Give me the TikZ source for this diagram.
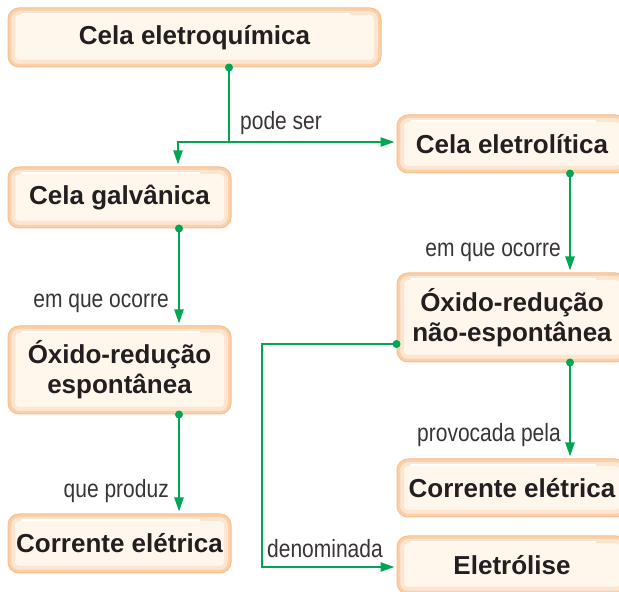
\documentclass[tikz,border=0pt]{standalone}
\usepackage{fontspec}
\setmainfont{Liberation Sans}
\newfontfamily\condfont[FakeStretch=0.84]{Liberation Sans}
\usetikzlibrary{arrows.meta,calc}
\definecolor{gr}{HTML}{00A651}
\definecolor{boxfill}{HTML}{FFF6EC}
\definecolor{boxring}{HTML}{FDE5CF}
\definecolor{boxring2}{HTML}{FAD0AA}
\definecolor{boxedge}{HTML}{F6C090}
\definecolor{txt}{HTML}{231F20}
\tikzset{
  concept/.style={rounded corners=11pt, fill=boxfill, draw=boxedge, line width=1pt,
    align=center, font=\bfseries\fontsize{26}{30}\selectfont, text=txt, inner sep=0pt,
    path picture={
      \draw[boxring, line width=14pt, rounded corners=11pt]
        (path picture bounding box.south west) rectangle (path picture bounding box.north east);
      \draw[boxring2, line width=6pt, rounded corners=11pt]
        (path picture bounding box.south west) rectangle (path picture bounding box.north east);
      \draw[white, line width=2.5pt, line cap=round]
        ($(path picture bounding box.north west)+(14pt,-6pt)$) -- ($(path picture bounding box.north east)+(-32pt,-6pt)$);
    }},
  conn/.style={gr, line width=2.3pt},
  arr/.style={conn, -{Triangle[length=14pt,width=9pt]}, shorten >=2pt},
  lbl/.style={font=\condfont\fontsize{25}{30}\selectfont, text=txt!90, inner sep=0pt}
}
\begin{document}
\begin{tikzpicture}[x=1pt,y=1pt]
\useasboundingbox (0,0) rectangle (619,592);
\clip (0,0) rectangle (619,592);
% boxes
\node[concept, minimum width=373pt, minimum height=59pt] (top) at (194.5,554.5) {Cela eletroquímica};
\node[concept, minimum width=223pt, minimum height=61pt] (galv) at (119.5,394.5) {Cela galvânica};
\node[concept, minimum width=223pt, minimum height=88pt] (oxl) at (119.5,222) {Óxido-redução\\espontânea};
\node[concept, minimum width=223pt, minimum height=59pt] (corl) at (119.5,48.5) {Corrente elétrica};
\node[concept, minimum width=230pt, minimum height=58pt] (eletrol) at (512,448) {Cela eletrolítica};
\node[concept, minimum width=230pt, minimum height=89pt] (oxr) at (512,274.5) {Óxido-redução\\não-espontânea};
\node[concept, minimum width=230pt, minimum height=58pt] (corr) at (512,104) {Corrente elétrica};
\node[concept, minimum width=230pt, minimum height=58pt] (eletrolise) at (512,27) {Eletrólise};
% helper coordinates
\coordinate (split) at (229,450);
\coordinate (lx) at (179,0);
\coordinate (gx) at (178,0);
\coordinate (rx) at (570,0);
\coordinate (dn) at ($(oxr.west)+(0,-26.5)$);
\coordinate (lc) at (262,25);
% connectors
\draw[conn] (top.south -| split) -- (split);
\fill[gr] (top.south -| split) circle (4pt);
\draw[arr] (split) -| (galv.north -| gx);
\draw[arr] (split) -- (eletrol.west |- split);
\draw[arr] (galv.south -| lx) -- (oxl.north -| lx);
\fill[gr] (galv.south -| lx) circle (4pt);
\draw[arr] (oxl.south -| lx) -- (corl.north -| lx);
\fill[gr] (oxl.south -| lx) circle (4pt);
\draw[arr] (eletrol.south -| rx) -- (oxr.north -| rx);
\fill[gr] (eletrol.south -| rx) circle (4pt);
\draw[arr] (oxr.south -| rx) -- (corr.north -| rx);
\fill[gr] (oxr.south -| rx) circle (4pt);
\draw[arr] (dn) -| (lc) -- (eletrolise.west |- lc);
\fill[gr] (dn) circle (4pt);
% labels
\node[lbl, anchor=base west] (l1) at (240,462) {pode ser};
\node[lbl, anchor=base east] (l2) at (169,284) {em que ocorre};
\node[lbl, anchor=base east] (l3) at (169,94) {que produz};
\node[lbl, anchor=base east] (l4) at (561,335) {em que ocorre};
\node[lbl, anchor=base east] (l5) at (561,150) {provocada pela};
\node[lbl, anchor=base west] (l6) at (267,34) {denominada};
\end{tikzpicture}
\end{document}
